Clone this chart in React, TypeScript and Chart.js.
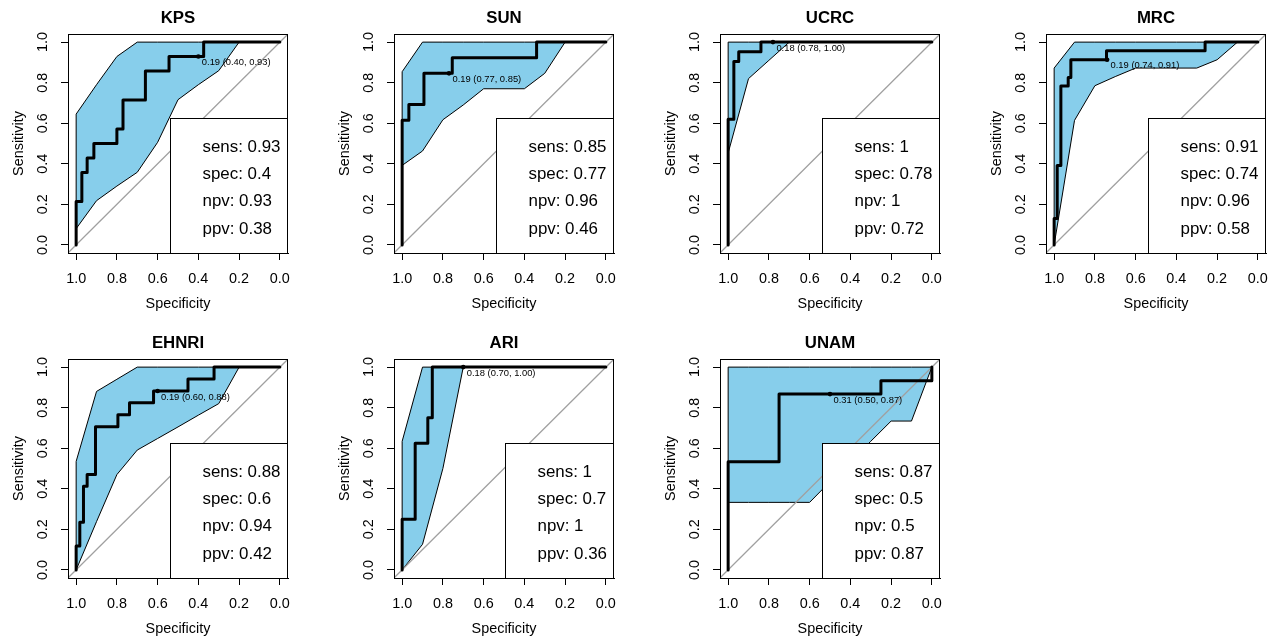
import React, { useEffect, useRef } from "react";
import { Chart, registerables } from "chart.js";

Chart.register(...registerables);

// ---------- shared axis data ----------
const tickValues = [0, 0.2, 0.4, 0.6, 0.8, 1.0];
const axisMin = -0.04;
const axisMax = 1.04;
const ciSpecGrid = [1, 0.9, 0.8, 0.7, 0.6, 0.5, 0.4, 0.3, 0.2, 0.1, 0];
const statNames = ["sens", "spec", "npv", "ppv"];
const xTitle = "Specificity";
const yTitle = "Sensitivity";

// ---------- KPS ----------
const kpsRocSpec = [1, 1, 0.972, 0.972, 0.946, 0.946, 0.913, 0.913, 0.8, 0.8, 0.77, 0.77, 0.66, 0.66, 0.544, 0.544, 0.374, 0.374, 0];
const kpsRocSens = [0, 0.214, 0.214, 0.357, 0.357, 0.429, 0.429, 0.5, 0.5, 0.571, 0.571, 0.714, 0.714, 0.857, 0.857, 0.929, 0.929, 1, 1];
const kpsCiLow = [0.08, 0.218, 0.29, 0.358, 0.506, 0.716, 0.79, 0.859, 1, 1, 1];
const kpsCiHigh = [0.645, 0.79, 0.929, 1, 1, 1, 1, 1, 1, 1, 1];
const kpsThr = { label: "0.19 (0.40, 0.93)", spec: 0.4, sens: 0.929 };
const kpsStats = [0.93, 0.4, 0.93, 0.38];

// ---------- SUN ----------
const sunRocSpec = [1, 1, 0.967, 0.967, 0.893, 0.893, 0.754, 0.754, 0.34, 0.34, 0];
const sunRocSens = [0, 0.615, 0.615, 0.692, 0.692, 0.846, 0.846, 0.923, 0.923, 1, 1];
const sunCiLow = [0.392, 0.463, 0.617, 0.69, 0.77, 0.77, 0.77, 0.846, 1, 1, 1];
const sunCiHigh = [0.854, 1, 1, 1, 1, 1, 1, 1, 1, 1, 1];
const sunThr = { label: "0.19 (0.77, 0.85)", spec: 0.77, sens: 0.846 };
const sunStats = [0.85, 0.77, 0.96, 0.46];

// ---------- UCRC ----------
const ucrcRocSpec = [1, 1, 0.972, 0.972, 0.948, 0.948, 0.839, 0.839, 0];
const ucrcRocSens = [0, 0.619, 0.619, 0.905, 0.905, 0.952, 0.952, 1, 1];
const ucrcCiLow = [0.453, 0.82, 0.91, 1, 1, 1, 1, 1, 1, 1, 1];
const ucrcCiHigh = [1, 1, 1, 1, 1, 1, 1, 1, 1, 1, 1];
const ucrcThr = { label: "0.18 (0.78, 1.00)", spec: 0.78, sens: 1 };
const ucrcStats = [1, 0.78, 1, 0.72];

// ---------- MRC ----------
const mrcRocSpec = [1, 1, 0.985, 0.985, 0.967, 0.967, 0.931, 0.931, 0.918, 0.918, 0.743, 0.743, 0.259, 0.259, 0];
const mrcRocSens = [0, 0.13, 0.13, 0.391, 0.391, 0.783, 0.783, 0.826, 0.826, 0.913, 0.913, 0.957, 0.957, 1, 1];
const mrcCiLow = [0, 0.614, 0.785, 0.83, 0.872, 0.872, 0.872, 0.872, 0.913, 1, 1];
const mrcCiHigh = [0.872, 1, 1, 1, 1, 1, 1, 1, 1, 1, 1];
const mrcThr = { label: "0.19 (0.74, 0.91)", spec: 0.74, sens: 0.913 };
const mrcStats = [0.91, 0.74, 0.96, 0.58];

// ---------- EHNRI ----------
const ehnriRocSpec = [1, 1, 0.982, 0.982, 0.964, 0.964, 0.946, 0.946, 0.905, 0.905, 0.795, 0.795, 0.738, 0.738, 0.62, 0.62, 0.451, 0.451, 0.323, 0.323, 0];
const ehnriRocSens = [0, 0.118, 0.118, 0.235, 0.235, 0.412, 0.412, 0.471, 0.471, 0.706, 0.706, 0.765, 0.765, 0.824, 0.824, 0.882, 0.882, 0.941, 0.941, 1, 1];
const ehnriCiLow = [0, 0.238, 0.47, 0.591, 0.648, 0.705, 0.763, 0.82, 1, 1, 1];
const ehnriCiHigh = [0.535, 0.88, 0.94, 1, 1, 1, 1, 1, 1, 1, 1];
const ehnriThr = { label: "0.19 (0.60, 0.88)", spec: 0.6, sens: 0.882 };
const ehnriStats = [0.88, 0.6, 0.94, 0.42];

// ---------- ARI ----------
const ariRocSpec = [1, 1, 0.936, 0.936, 0.874, 0.874, 0.852, 0.852, 0];
const ariRocSens = [0, 0.25, 0.25, 0.625, 0.625, 0.75, 0.75, 1, 1];
const ariCiLow = [0, 0.126, 0.5, 1, 1, 1, 1, 1, 1, 1, 1];
const ariCiHigh = [0.634, 1, 1, 1, 1, 1, 1, 1, 1, 1, 1];
const ariThr = { label: "0.18 (0.70, 1.00)", spec: 0.7, sens: 1 };
const ariStats = [1, 0.7, 1, 0.36];

// ---------- UNAM ----------
const unamRocSpec = [1, 1, 0.75, 0.75, 0.25, 0.25, 0, 0];
const unamRocSens = [0, 0.533, 0.533, 0.867, 0.867, 0.933, 0.933, 1];
const unamCiLow = [0.333, 0.333, 0.333, 0.333, 0.333, 0.435, 0.534, 0.634, 0.734, 0.734, 1];
const unamCiHigh = [1, 1, 1, 1, 1, 1, 1, 1, 1, 1, 1];
const unamThr = { label: "0.31 (0.50, 0.87)", spec: 0.5, sens: 0.867 };
const unamStats = [0.87, 0.5, 0.5, 0.87];

type Thr = { label: string; spec: number; sens: number };
type Panel = {
  name: string;
  rocSpec: number[];
  rocSens: number[];
  ciLow: number[];
  ciHigh: number[];
  thr: Thr;
  stats: number[];
};

const panels: Panel[] = [
  { name: "KPS", rocSpec: kpsRocSpec, rocSens: kpsRocSens, ciLow: kpsCiLow, ciHigh: kpsCiHigh, thr: kpsThr, stats: kpsStats },
  { name: "SUN", rocSpec: sunRocSpec, rocSens: sunRocSens, ciLow: sunCiLow, ciHigh: sunCiHigh, thr: sunThr, stats: sunStats },
  { name: "UCRC", rocSpec: ucrcRocSpec, rocSens: ucrcRocSens, ciLow: ucrcCiLow, ciHigh: ucrcCiHigh, thr: ucrcThr, stats: ucrcStats },
  { name: "MRC", rocSpec: mrcRocSpec, rocSens: mrcRocSens, ciLow: mrcCiLow, ciHigh: mrcCiHigh, thr: mrcThr, stats: mrcStats },
  { name: "EHNRI", rocSpec: ehnriRocSpec, rocSens: ehnriRocSens, ciLow: ehnriCiLow, ciHigh: ehnriCiHigh, thr: ehnriThr, stats: ehnriStats },
  { name: "ARI", rocSpec: ariRocSpec, rocSens: ariRocSens, ciLow: ariCiLow, ciHigh: ariCiHigh, thr: ariThr, stats: ariStats },
  { name: "UNAM", rocSpec: unamRocSpec, rocSens: unamRocSens, ciLow: unamCiLow, ciHigh: unamCiHigh, thr: unamThr, stats: unamStats },
];

// ---------- layout / style ----------
const FONT = "'Liberation Sans', Arial, Helvetica, sans-serif";
const CW = 296;
const CH = 314;
const AREA_LEFT = 68;
const AREA_TOP = 34;
const AREA_RIGHT = 288;
const AREA_BOTTOM = 253;
const colLefts = [0, 326, 652, 978];
const rowTops = [0, 325];

Chart.defaults.font.family = FONT;
Chart.defaults.color = "#000";

function decorPlugin(p: Panel) {
  return {
    id: "rocDecor",
    afterDatasetsDraw(chart: any) {
      const { ctx, chartArea: a, scales } = chart;
      const xs = scales.x;
      const ys = scales.y;
      ctx.save();

      // threshold annotation
      ctx.font = `9.4px ${FONT}`;
      ctx.fillStyle = "#000";
      ctx.textAlign = "left";
      ctx.textBaseline = "middle";
      const tw = ctx.measureText(p.thr.label).width;
      ctx.fillText(
        p.thr.label,
        xs.getPixelForValue(p.thr.spec) + 0.05 * tw,
        ys.getPixelForValue(p.thr.sens) + 6
      );

      // legend box (bottom-right)
      ctx.font = `16.9px ${FONT}`;
      const lines = statNames.map((n, i) => `${n}: ${p.stats[i]}`);
      const maxW = Math.max(...lines.map((l) => ctx.measureText(l).width));
      const bw = maxW + 40;
      const bh = 135.5;
      const bx = Math.round(a.right - bw) + 0.5;
      const by = Math.round(a.bottom - bh) + 0.5;
      ctx.fillStyle = "#fff";
      ctx.fillRect(bx, by, a.right - 0.5 - bx, a.bottom + 0.5 - by);
      ctx.strokeStyle = "#000";
      ctx.lineWidth = 1;
      ctx.strokeRect(bx, by, a.right - 0.5 - bx, a.bottom + 0.5 - by);
      ctx.fillStyle = "#000";
      ctx.textAlign = "left";
      ctx.textBaseline = "middle";
      lines.forEach((l, i) => {
        ctx.fillText(l, bx + 32, by + 28.8 + i * 27.2);
      });

      // plot frame
      ctx.strokeRect(a.left + 0.5, a.top + 0.5, a.right - a.left - 1, a.bottom - a.top);

      // title
      ctx.font = `bold 16.8px ${FONT}`;
      ctx.textAlign = "center";
      ctx.textBaseline = "middle";
      ctx.fillText(p.name, (a.left + a.right) / 2, 18.8);
      ctx.restore();
    },
  };
}

function buildConfig(p: Panel): any {
  const roc = p.rocSpec.map((s, i) => ({ x: s, y: p.rocSens[i] }));
  const upper = ciSpecGrid.map((s, i) => ({ x: s, y: p.ciHigh[i] }));
  const lower = ciSpecGrid.map((s, i) => ({ x: s, y: p.ciLow[i] })).reverse();
  const band = [...upper, ...lower, upper[0]];
  const diag = [
    { x: axisMax, y: axisMin },
    { x: axisMin, y: axisMax },
  ];

  const axisCommon = (titleText: string, isX: boolean) => ({
    type: "linear",
    min: axisMin,
    max: axisMax,
    afterBuildTicks: (s: any) => {
      s.ticks = tickValues.map((v) => ({ value: v }));
    },
    ticks: {
      autoSkip: false,
      color: "#000",
      font: { size: 14.4, family: FONT },
      callback: (v: any) => Number(v).toFixed(1),
      ...(isX
        ? { minRotation: 0, maxRotation: 0, padding: 10 }
        : { minRotation: 90, maxRotation: 90, crossAlign: "center", padding: 7.8 }),
    },
    grid: {
      drawOnChartArea: false,
      drawTicks: true,
      tickLength: 7,
      color: "#000",
      lineWidth: 1,
    },
    border: { display: true, color: "#000", width: 1 },
    title: {
      display: true,
      text: titleText,
      color: "#000",
      font: { size: 14.4, family: FONT },
      padding: isX ? { top: 0, bottom: 1.8 } : { top: 10.5, bottom: 0 },
    },
  });

  return {
    type: "line",
    data: {
      datasets: [
        {
          label: "threshold",
          data: [{ x: p.thr.spec, y: p.thr.sens }],
          showLine: false,
          pointRadius: 2.3,
          pointBackgroundColor: "#000",
          pointBorderWidth: 0,
          borderColor: "#000",
        },
        {
          label: "roc",
          data: roc,
          borderColor: "#000",
          borderWidth: 3,
          pointRadius: 0,
          fill: false,
          tension: 0,
          borderJoinStyle: "round",
          borderCapStyle: "round",
        },
        {
          label: "identity",
          data: diag,
          borderColor: "#A0A0A0",
          borderWidth: 1.25,
          pointRadius: 0,
          fill: false,
          tension: 0,
        },
        {
          label: "ci",
          data: band,
          borderColor: "#000",
          borderWidth: 1,
          backgroundColor: "#87CEEB",
          pointRadius: 0,
          fill: "shape",
          tension: 0,
        },
      ],
    },
    options: {
      animation: false,
      responsive: false,
      maintainAspectRatio: false,
      events: [],
      layout: {
        padding: { top: AREA_TOP, right: CW - AREA_RIGHT, bottom: 0, left: 0 },
      },
      plugins: {
        legend: { display: false },
        tooltip: { enabled: false },
        title: { display: false },
      },
      scales: {
        x: {
          ...axisCommon(xTitle, true),
          reverse: true,
          afterFit: (s: any) => {
            s.height = CH - AREA_BOTTOM;
          },
        },
        y: {
          ...axisCommon(yTitle, false),
          afterFit: (s: any) => {
            s.width = AREA_LEFT;
          },
        },
      },
    },
    plugins: [decorPlugin(p)],
  };
}

function RocPanel({ panel, left, top }: { panel: Panel; left: number; top: number }) {
  const ref = useRef<HTMLCanvasElement>(null);
  useEffect(() => {
    if (!ref.current) return;
    const chart = new Chart(ref.current, buildConfig(panel));
    return () => chart.destroy();
  }, [panel]);
  return (
    <canvas
      ref={ref}
      width={CW}
      height={CH}
      style={{ position: "absolute", left, top, width: CW, height: CH }}
    />
  );
}

export default function App() {
  return (
    <div
      style={{
        position: "absolute",
        left: 0,
        top: 0,
        width: 1275,
        height: 641,
        overflow: "hidden",
        background: "#fff",
      }}
    >
      {panels.map((p, i) => (
        <RocPanel key={p.name} panel={p} left={colLefts[i % 4]} top={rowTops[Math.floor(i / 4)]} />
      ))}
    </div>
  );
}
